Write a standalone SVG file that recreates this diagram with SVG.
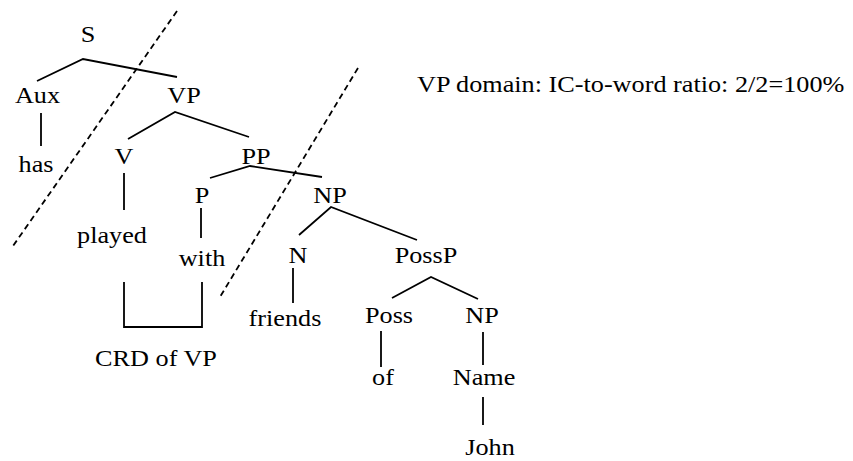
<svg xmlns="http://www.w3.org/2000/svg" width="853" height="461" viewBox="0 0 853 461">
<style>
text{font-family:"Liberation Serif","Times New Roman",serif;font-size:23px;fill:#000;text-anchor:middle}
.edge{fill:none;stroke:#000;stroke-width:1.8;stroke-linejoin:miter}
.dash{fill:none;stroke:#000;stroke-width:1.8;stroke-dasharray:6 4}
</style>
<rect width="853" height="461" fill="#fff"/>
<g id="connectors">
<polyline class="edge" points="37,81 83,59 177,77"/>
<line class="edge" x1="41" y1="113" x2="41" y2="146"/>
<polyline class="edge" points="128,139 175,112 249,137"/>
<line class="edge" x1="124" y1="173" x2="124" y2="210"/>
<polyline class="edge" points="210,178 250,166 322,177"/>
<line class="edge" x1="201" y1="208" x2="201" y2="238"/>
<polyline class="edge" points="299,235 331,207 417,240"/>
<line class="edge" x1="293" y1="268" x2="293" y2="303"/>
<polyline class="edge" points="392,298 431,277 478,299"/>
<line class="edge" x1="381" y1="331" x2="381" y2="367"/>
<line class="edge" x1="483" y1="332" x2="483" y2="365"/>
<line class="edge" x1="483" y1="397" x2="483" y2="425"/>
<polyline class="edge" points="124,282 124,327 202,327 202,282"/>
<line class="dash" x1="177" y1="11" x2="13" y2="246"/>
<line class="dash" x1="358" y1="68" x2="220" y2="297"/>
</g>
<g id="S"><text transform="translate(88,42) scale(1.14,1)">S</text></g>
<g id="Aux"><text transform="translate(37.5,103) scale(1.14,1)">Aux</text></g>
<g id="VP"><text transform="translate(184,103) scale(1.14,1)">VP</text></g>
<g id="has"><text transform="translate(36,172) scale(1.14,1)">has</text></g>
<g id="V"><text transform="translate(124,164) scale(1.14,1)">V</text></g>
<g id="PP"><text transform="translate(256,164) scale(1.14,1)">PP</text></g>
<g id="played"><text transform="translate(112,243) scale(1.14,1)">played</text></g>
<g id="P"><text transform="translate(202,203) scale(1.14,1)">P</text></g>
<g id="NP1"><text transform="translate(330,203) scale(1.14,1)">NP</text></g>
<g id="with"><text transform="translate(202,266) scale(1.14,1)">with</text></g>
<g id="N"><text transform="translate(298,263) scale(1.14,1)">N</text></g>
<g id="PossP"><text transform="translate(426,263) scale(1.14,1)">PossP</text></g>
<g id="friends"><text transform="translate(285,326) scale(1.14,1)">friends</text></g>
<g id="Poss"><text transform="translate(389,323) scale(1.14,1)">Poss</text></g>
<g id="NP2"><text transform="translate(482,323) scale(1.14,1)">NP</text></g>
<g id="of"><text transform="translate(383,385) scale(1.14,1)">of</text></g>
<g id="Name"><text transform="translate(484,385) scale(1.14,1)">Name</text></g>
<g id="John"><text transform="translate(490,455) scale(1.14,1)">John</text></g>
<g id="CRD"><text transform="translate(156,366) scale(1.14,1)">CRD of VP</text></g>
<g id="caption"><text transform="translate(417,92) scale(1.14,1)" style="text-anchor:start">VP domain: IC-to-word ratio: 2/2=100%</text></g>
</svg>
